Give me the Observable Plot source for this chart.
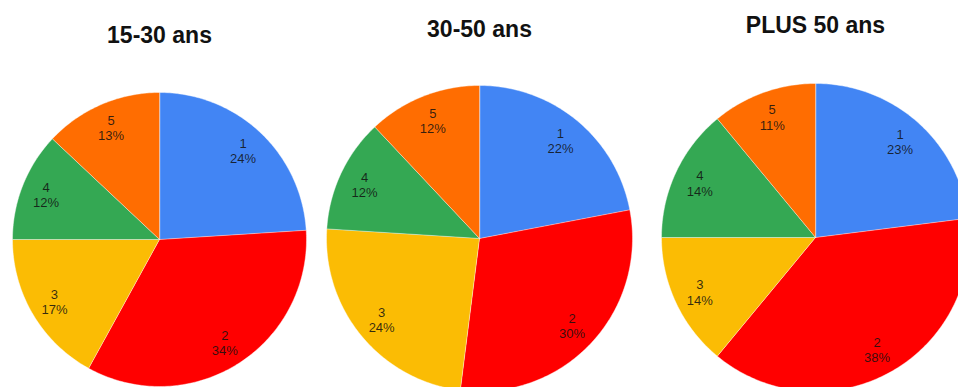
<!DOCTYPE html>
<html>
<head>
<meta charset="utf-8">
<script src="https://cdn.jsdelivr.net/npm/d3@7"></script>
<script src="https://cdn.jsdelivr.net/npm/@observablehq/plot@0.6"></script>
<style>
  html, body { margin: 0; padding: 0; background: #fff; }
  #chart svg { display: block; }
</style>
</head>
<body>
<div id="chart"></div>
<script>
// ---- data ----
const groups = ["15-30 ans", "30-50 ans", "PLUS 50 ans"];
const categories = ["1", "2", "3", "4", "5"];
const values_15_30 = [24, 34, 17, 12, 13];
const values_30_50 = [22, 30, 24, 12, 12];
const values_plus50 = [23, 38, 14, 14, 11];
const seriesValues = [values_15_30, values_30_50, values_plus50];

// ---- styles / layout (not data) ----
const sliceColors = ["#4285F4", "#FF0000", "#FBBC04", "#34A853", "#FF6D01"];
const layout = [
  {cx: 159, cy: 239, r: 147, ty: 35},
  {cx: 479, cy: 238, r: 153, ty: 29},
  {cx: 815, cy: 237, r: 154, ty: 25}
];
const W = 958, H = 387;
const labelFactor = 0.83;

// build slice polygons & label anchors
const slicePts = [];
const labels = [];
const titles = [];
groups.forEach((g, gi) => {
  const {cx, cy, r, ty} = layout[gi];
  titles.push({text: g, x: cx, y: ty});
  const vals = seriesValues[gi];
  const total = d3.sum(vals);
  let acc = 0;
  vals.forEach((v, ci) => {
    const a0 = acc / total * 2 * Math.PI;
    acc += v;
    const a1 = acc / total * 2 * Math.PI;
    const key = g + "-" + categories[ci];
    slicePts.push({key, x: cx, y: cy, color: sliceColors[ci]});
    const n = Math.max(2, Math.ceil((a1 - a0) / (Math.PI / 180)));
    for (let k = 0; k <= n; k++) {
      const a = a0 + (a1 - a0) * k / n;
      slicePts.push({key, x: cx + r * Math.sin(a), y: cy - r * Math.cos(a), color: sliceColors[ci]});
    }
    const am = (a0 + a1) / 2;
    labels.push({
      text: categories[ci] + "\n" + v + "%",
      x: cx + labelFactor * r * Math.sin(am),
      y: cy - labelFactor * r * Math.cos(am)
    });
  });
});

const chart = Plot.plot({
  width: W,
  height: H,
  margin: 0,
  style: {background: "#fff", fontFamily: "Liberation Sans, Arial, sans-serif"},
  x: {domain: [0, W], range: [0, W], axis: null},
  y: {domain: [0, H], range: [0, H], axis: null},
  color: {type: "identity"},
  marks: [
    Plot.line(slicePts, {
      x: "x", y: "y", z: "key",
      fill: "color",
      stroke: "#fff", strokeWidth: 0.7, strokeOpacity: 0.6,
      curve: "linear-closed",
      clip: true
    }),
    Plot.text(labels, {
      x: "x", y: "y", text: "text",
      fontSize: 13, lineHeight: 1.2,
      fill: "#111", fillOpacity: 0.85
    }),
    Plot.text(titles, {
      x: "x", y: "y", text: "text",
      fontSize: 23, fontWeight: "bold", fill: "#111"
    })
  ]
});
document.getElementById("chart").append(chart);
</script>
</body>
</html>
